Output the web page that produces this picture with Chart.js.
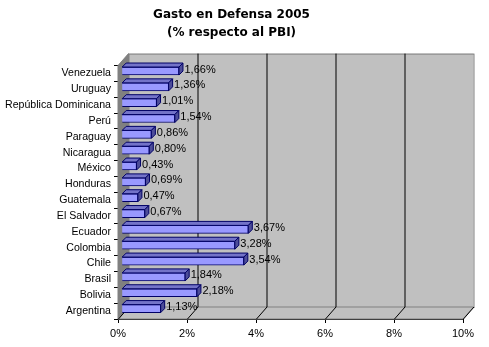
<!DOCTYPE html>
<html><head><meta charset="utf-8">
<script src="https://cdn.jsdelivr.net/npm/chart.js@4"></script>
<style>html,body{margin:0;padding:0;background:#fff}#wrap{width:489px;height:347px}</style>
</head><body><div id="wrap"><canvas id="c" width="489" height="347"></canvas></div>
<script>
const categories = ["Venezuela","Uruguay","República Dominicana","Perú","Paraguay","Nicaragua","México","Honduras","Guatemala","El Salvador","Ecuador","Colombia","Chile","Brasil","Bolivia","Argentina"];
const gasto = [1.66,1.36,1.01,1.54,0.86,0.80,0.43,0.69,0.47,0.67,3.67,3.28,3.54,1.84,2.18,1.13];
const xTicks = [0,2,4,6,8,10];
const titleLines = ["Gasto en Defensa 2005","(% respecto al PBI)"];

const WD = {dx:10.5, dy:-12};   // wall depth
const BD = {dx:4, dy:-4};       // bar depth
const BS = {dx:3.7, dy:-2.5};   // bar shift
const FONT = '"Liberation Sans", Arial, sans-serif';

const wallsPlugin = {
  id:'walls',
  beforeDatasetsDraw(chart){
    const {ctx, chartArea:a, scales:{x}} = chart;
    ctx.save();
    ctx.fillStyle='#C0C0C0'; ctx.strokeStyle='#808080'; ctx.lineWidth=1;
    ctx.fillRect(a.left+WD.dx, a.top+WD.dy, a.right-a.left, a.bottom-a.top);
    ctx.strokeRect(a.left+WD.dx+0.5, a.top+WD.dy+0.5, a.right-a.left, a.bottom-a.top);
    ctx.beginPath();
    ctx.moveTo(a.left,a.bottom); ctx.lineTo(a.right,a.bottom);
    ctx.lineTo(a.right+WD.dx,a.bottom+WD.dy); ctx.lineTo(a.left+WD.dx,a.bottom+WD.dy); ctx.closePath();
    ctx.fillStyle='#C0C0C0'; ctx.fill(); ctx.stroke();
    ctx.beginPath();
    ctx.moveTo(a.left,a.top); ctx.lineTo(a.left+WD.dx,a.top+WD.dy);
    ctx.lineTo(a.left+WD.dx,a.bottom+WD.dy); ctx.lineTo(a.left,a.bottom); ctx.closePath();
    ctx.fillStyle='#808080'; ctx.fill(); ctx.strokeStyle='#808080'; ctx.stroke();
    ctx.strokeStyle='#000'; ctx.lineWidth=1;
    xTicks.forEach(v=>{
      const px = Math.round(x.getPixelForValue(v))+0.5;
      ctx.beginPath();
      ctx.moveTo(px, a.bottom); ctx.lineTo(px+WD.dx, a.bottom+WD.dy);
      if(v>0 && v<10){ ctx.lineTo(px+WD.dx, a.top+WD.dy); }
      ctx.stroke();
    });
    ctx.restore();
    ctx.save();
    ctx.translate(BS.dx, BS.dy);
  },
  afterDatasetsDraw(chart){
    const {ctx} = chart;
    const meta = chart.getDatasetMeta(0);
    ctx.lineWidth=1; ctx.strokeStyle='#000066';
    meta.data.forEach(el=>{
      const p = el.getProps(['x','y','base','height'], true);
      const t = p.y - p.height/2, b = p.y + p.height/2;
      ctx.beginPath();
      ctx.moveTo(p.base,t); ctx.lineTo(p.x,t); ctx.lineTo(p.x+BD.dx,t+BD.dy); ctx.lineTo(p.base+BD.dx,t+BD.dy); ctx.closePath();
      ctx.fillStyle='#7373C8'; ctx.fill(); ctx.stroke();
      ctx.beginPath();
      ctx.moveTo(p.x,t); ctx.lineTo(p.x+BD.dx,t+BD.dy); ctx.lineTo(p.x+BD.dx,b+BD.dy); ctx.lineTo(p.x,b); ctx.closePath();
      ctx.fillStyle='#4D4D99'; ctx.fill(); ctx.stroke();
    });
    ctx.restore();
    ctx.save();
    ctx.font = '11px ' + FONT;
    ctx.fillStyle='#000'; ctx.textBaseline='middle'; ctx.textAlign='left';
    meta.data.forEach((el,i)=>{
      const p = el.getProps(['x','y'], true);
      ctx.fillText(gasto[i].toFixed(2).replace('.',',')+'%', p.x + BS.dx + 5.5, p.y - 4);
    });
    ctx.restore();
  }
};

new Chart(document.getElementById('c'), {
  type:'bar',
  data:{ labels:categories, datasets:[{ data:gasto, backgroundColor:'#9999FF', borderColor:'#000066', borderWidth:1, barThickness:8 }]},
  options:{
    indexAxis:'y', responsive:false, animation:false, devicePixelRatio:1,
    layout:{ padding:{ top:0, right:26, bottom:0, left:0 } },
    plugins:{
      legend:{display:false}, tooltip:{enabled:false},
      title:{ display:true, text:titleLines, color:'#000',
        font:{ family:'"DejaVu Sans", sans-serif', size:12, weight:'bold', lineHeight:1.5 },
        padding:{ top:6, bottom:23.6 } }
    },
    scales:{
      x:{ min:0, max:10, afterBuildTicks(s){ s.ticks = xTicks.map(v=>({value:v})); },
        ticks:{ color:'#000', font:{family:FONT, size:11}, callback:v=>v+'%', maxRotation:0, padding:4 },
        grid:{ drawOnChartArea:false, drawTicks:true, tickLength:4, color:'#000' },
        border:{ color:'#000', width:1 },
        afterFit(s){ s.height = 28; } },
      y:{ ticks:{ color:'#000', font:{family:FONT, size:10.6}, padding:3, autoSkip:false },
        grid:{ drawOnChartArea:false, drawTicks:true, tickLength:4, color:'#000', offset:true },
        border:{ color:'#000', width:1 },
        afterFit(s){ s.width = 118; } }
    }
  },
  plugins:[wallsPlugin]
});
</script></body></html>
